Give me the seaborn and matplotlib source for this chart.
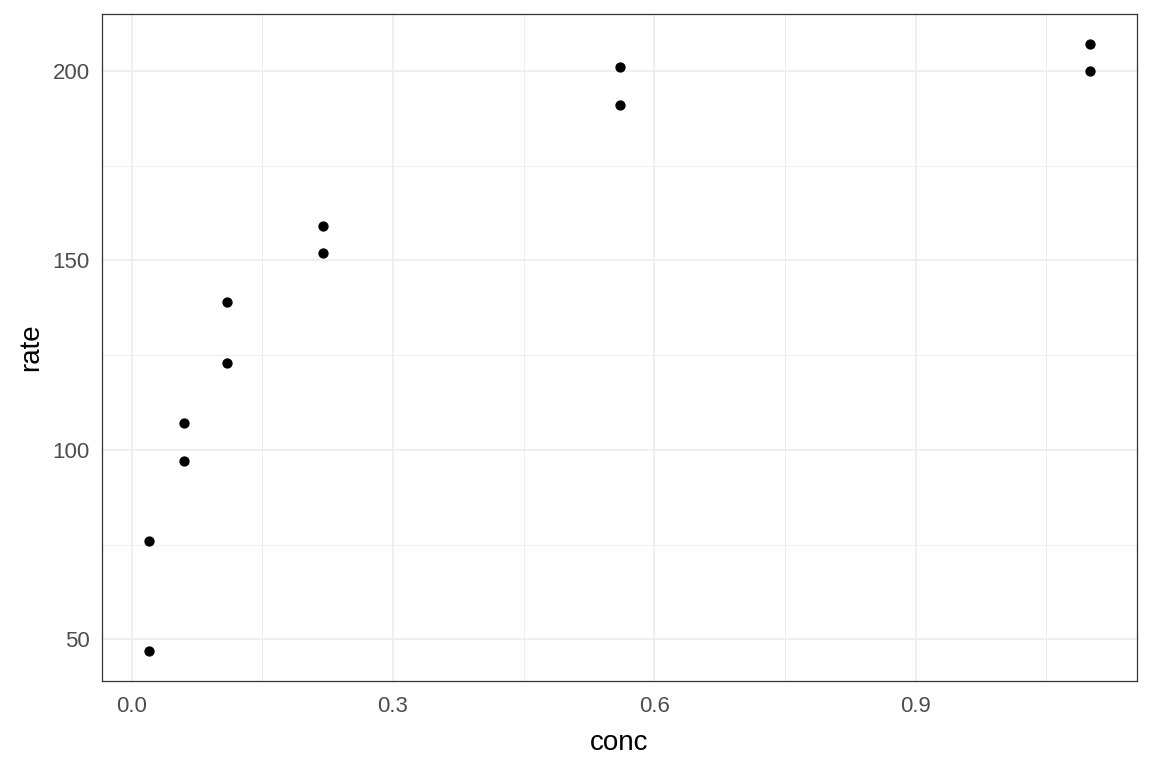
import numpy as np
import pandas as pd
import matplotlib
matplotlib.use("Agg")
import matplotlib.pyplot as plt
import seaborn as sns
from matplotlib.ticker import MultipleLocator, FormatStrFormatter

conc = [0.02, 0.02, 0.06, 0.06, 0.11, 0.11, 0.22, 0.22, 0.56, 0.56, 1.10, 1.10]
rate = [76, 47, 97, 107, 123, 139, 159, 152, 191, 201, 207, 200]

df = pd.DataFrame({"conc": conc, "rate": rate})

sns.set_style("white")
plt.rcParams["font.family"] = ["Liberation Sans", "DejaVu Sans"]

fig = plt.figure(figsize=(11.52, 7.68), dpi=100)
ax = fig.add_axes([102 / 1152, 1 - 681 / 768, (1137 - 102) / 1152, (681 - 14) / 768])

sns.scatterplot(data=df, x="conc", y="rate", ax=ax, color="black",
                s=55, edgecolor="black", linewidth=0, zorder=3)

# ggplot-style 5% expansion
xlo, xhi = min(conc), max(conc)
pad = (xhi - xlo) * 0.05
ax.set_xlim(xlo - pad, xhi + pad)
ylo, yhi = min(rate), max(rate)
pad = (yhi - ylo) * 0.05
ax.set_ylim(ylo - pad, yhi + pad)

ax.xaxis.set_major_locator(MultipleLocator(0.3))
ax.xaxis.set_minor_locator(MultipleLocator(0.15))
ax.yaxis.set_major_locator(MultipleLocator(50))
ax.yaxis.set_minor_locator(MultipleLocator(25))
ax.xaxis.set_major_formatter(FormatStrFormatter("%.1f"))

ax.grid(which="major", color="#EBEBEB", linewidth=1.1, zorder=0)
ax.grid(which="minor", color="#EBEBEB", linewidth=0.55, zorder=0)
ax.set_axisbelow(True)

for sp in ax.spines.values():
    sp.set_color("#333333")
    sp.set_linewidth(0.9)

ax.tick_params(which="major", length=5, width=0.9, color="#333333",
               labelsize=16, labelcolor="#4D4D4D", pad=4)
ax.tick_params(axis="x", which="major", pad=6)
ax.tick_params(which="minor", length=0)

ax.set_xlabel("conc", fontsize=20, color="black", labelpad=9)
ax.set_ylabel("rate", fontsize=20, color="black", labelpad=6)

fig.savefig("out.png", dpi=100)
plt.close(fig)
